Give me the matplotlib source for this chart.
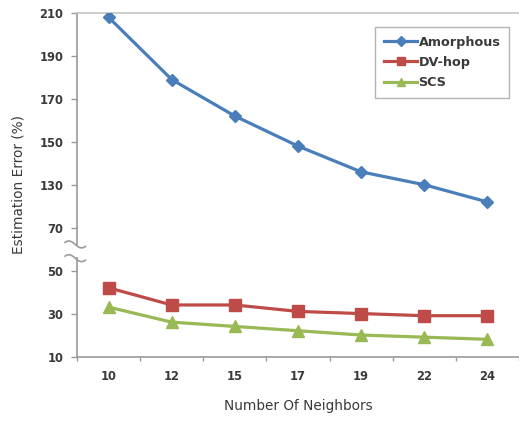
import numpy as np
import matplotlib
matplotlib.use("Agg")
import matplotlib.pyplot as plt
from matplotlib import transforms

categories = ["10", "12", "15", "17", "19", "22", "24"]
amorphous = [208, 179, 162, 148, 136, 130, 122]
dv_hop = [42, 34, 34, 31, 30, 29, 29]
scs = [33, 26, 24, 22, 20, 19, 18]
ytick_values = [10, 30, 50, 70, 130, 150, 170, 190, 210]

BREAK_SHIFT = 40  # labels above the axis break are shifted by this amount


def fwd(v):
    v = np.asarray(v, dtype=float)
    return np.where(v >= 110, v - BREAK_SHIFT, np.minimum(v, 70))


def inv(p):
    p = np.asarray(p, dtype=float)
    return np.where(p > 70, p + BREAK_SHIFT, p)


plt.rcParams['font.family'] = ['DejaVu Sans']

fig = plt.figure(figsize=(5.19, 4.22), dpi=100)
ax = fig.add_axes([77 / 519, 1 - 356.5 / 422, 1 - 77 / 519, (356.5 - 13) / 422])
ax.set_yscale('function', functions=(fwd, inv))

x = np.arange(len(categories))
ax.plot(x, amorphous, color='#4a7ebb', lw=2.3, marker='D', ms=6.5,
        label='Amorphous', zorder=3)
ax.plot(x, dv_hop, color='#be4b48', lw=2.3, marker='s', ms=8,
        label='DV-hop', zorder=3)
ax.plot(x, scs, color='#98b954', lw=2.3, marker='^', ms=8.5,
        label='SCS', zorder=3)

ax.set_xlim(-0.5, 6.37)
ax.set_ylim(10, 210)
ax.set_yticks(ytick_values)
ax.set_yticklabels([str(v) for v in ytick_values])
ax.set_xticks(x)
ax.set_xticklabels(categories)
ax.set_xticks(np.arange(-0.5, len(categories), 1.0), minor=True)

for s in ['left', 'bottom']:
    ax.spines[s].set_color('#9a9a9a')
    ax.spines[s].set_linewidth(1.2)
ax.spines['top'].set_color('#c4c4c4')
ax.spines['top'].set_linewidth(1.2)
ax.spines['right'].set_visible(False)

ax.tick_params(axis='y', direction='out', length=4, width=1, color='#9a9a9a',
               labelsize=8.3, labelcolor='#3a3a3a', pad=6)
ax.tick_params(axis='x', which='major', length=0, labelsize=8.3,
               labelcolor='#3a3a3a', pad=10)
ax.tick_params(axis='x', which='minor', direction='out', length=3, width=1,
               color='#9a9a9a')
for lab in ax.get_yticklabels() + ax.get_xticklabels():
    lab.set_fontweight('bold')

ax.set_xlabel('Number Of Neighbors', fontsize=9.8, color='#3a3a3a', labelpad=11)
ax.set_ylabel('Estimation Error (%)', fontsize=9.8, color='#3a3a3a', labelpad=10)

# axis break marks
tr = transforms.blended_transform_factory(ax.transAxes, ax.transData)
ax.add_patch(plt.Rectangle((-0.01, 56.5), 0.02, 5.5, transform=tr,
                           facecolor='white', edgecolor='none', clip_on=False,
                           zorder=5))
t = np.linspace(0, 1, 40)
bx = -0.027 + t * 0.046
for yc in (62.2, 55.8):
    by = yc - 1.6 * np.sin((t - 0.5) * np.pi * 1.6)
    ax.plot(bx, by, transform=tr, color='#9a9a9a', lw=1.2, clip_on=False,
            zorder=6)

leg = ax.legend(loc='upper left', bbox_to_anchor=((375 - 77) / 442, (356.5 - 27) / 343.5),
                frameon=True, fancybox=False, edgecolor='#a0a0a0',
                prop={'size': 9.2, 'weight': 'bold'}, handlelength=2.6,
                borderpad=0.7, labelspacing=0.55, handletextpad=0.1,
                borderaxespad=0, markerscale=0.75)
leg.get_frame().set_linewidth(1.0)
for txt in leg.get_texts():
    txt.set_color('#3a3a3a')

fig.savefig('out.png', dpi=100)
